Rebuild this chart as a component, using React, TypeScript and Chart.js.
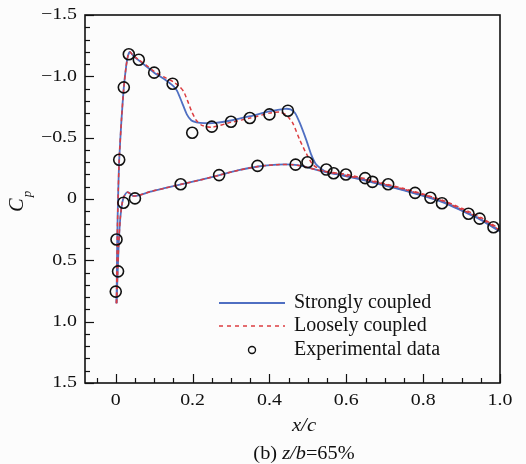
import React, { useEffect, useRef } from "react";
import { Chart, registerables } from "chart.js";

Chart.register(...registerables);

// ---- Data ----
const strongUpperX = [0.002, 0.004, 0.006, 0.009, 0.015, 0.021, 0.027, 0.032, 0.037, 0.045, 0.06, 0.08, 0.1, 0.125, 0.15, 0.16, 0.172, 0.185, 0.197, 0.21, 0.23, 0.26, 0.3, 0.35, 0.4, 0.44, 0.455, 0.467, 0.479, 0.496, 0.509, 0.522, 0.548, 0.6, 0.65, 0.7, 0.75, 0.8, 0.85, 0.9, 0.95, 1.0];
const strongUpperCp = [0.85, 0.3, 0.0, -0.32, -0.65, -0.91, -1.08, -1.17, -1.2, -1.17, -1.13, -1.08, -1.03, -0.98, -0.92, -0.88, -0.79, -0.69, -0.64, -0.625, -0.618, -0.62, -0.64, -0.675, -0.715, -0.735, -0.73, -0.7, -0.62, -0.48, -0.36, -0.28, -0.22, -0.19, -0.155, -0.115, -0.075, -0.03, 0.02, 0.09, 0.165, 0.26];

const strongLowerX = [0.002, 0.005, 0.008, 0.012, 0.017, 0.023, 0.03, 0.037, 0.045, 0.06, 0.09, 0.13, 0.17, 0.22, 0.27, 0.32, 0.37, 0.42, 0.46, 0.49, 0.52, 0.56, 0.6, 0.65, 0.7, 0.75, 0.8, 0.85, 0.9, 0.95, 1.0];
const strongLowerCp = [0.85, 0.6, 0.35, 0.15, 0.03, -0.03, -0.055, -0.045, -0.025, -0.03, -0.06, -0.09, -0.12, -0.155, -0.195, -0.235, -0.265, -0.28, -0.28, -0.265, -0.24, -0.21, -0.185, -0.15, -0.11, -0.07, -0.025, 0.025, 0.095, 0.17, 0.265];

const looseUpperX = [0.002, 0.004, 0.006, 0.009, 0.015, 0.021, 0.027, 0.032, 0.037, 0.045, 0.06, 0.08, 0.1, 0.125, 0.15, 0.165, 0.177, 0.187, 0.198, 0.21, 0.224, 0.25, 0.3, 0.35, 0.4, 0.427, 0.444, 0.461, 0.479, 0.496, 0.513, 0.539, 0.6, 0.65, 0.7, 0.75, 0.8, 0.85, 0.9, 0.95, 1.0];
const looseUpperCp = [0.85, 0.3, 0.0, -0.32, -0.65, -0.91, -1.08, -1.17, -1.2, -1.17, -1.135, -1.09, -1.04, -0.995, -0.955, -0.92, -0.875, -0.8, -0.71, -0.64, -0.6, -0.585, -0.625, -0.66, -0.7, -0.71, -0.685, -0.617, -0.48, -0.37, -0.28, -0.23, -0.2, -0.165, -0.125, -0.085, -0.04, 0.01, 0.075, 0.15, 0.245];

const looseLowerX = [0.002, 0.005, 0.008, 0.012, 0.017, 0.023, 0.03, 0.037, 0.045, 0.06, 0.09, 0.13, 0.17, 0.22, 0.27, 0.32, 0.37, 0.42, 0.46, 0.49, 0.52, 0.56, 0.6, 0.65, 0.7, 0.75, 0.8, 0.85, 0.9, 0.95, 1.0];
const looseLowerCp = [0.85, 0.6, 0.35, 0.15, 0.03, -0.03, -0.055, -0.045, -0.025, -0.03, -0.06, -0.09, -0.12, -0.155, -0.195, -0.235, -0.265, -0.28, -0.28, -0.265, -0.24, -0.215, -0.19, -0.158, -0.12, -0.08, -0.035, 0.015, 0.085, 0.16, 0.255];

const expX = [0.0, 0.006, 0.002, 0.009, 0.021, 0.034, 0.06, 0.1, 0.148, 0.199, 0.25, 0.3, 0.349, 0.4, 0.448, 0.499, 0.548, 0.567, 0.599, 0.649, 0.668, 0.709, 0.779, 0.819, 0.849, 0.918, 0.947, 0.983, 0.02, 0.05, 0.169, 0.269, 0.369, 0.468];
const expCp = [0.755, 0.59, 0.33, -0.32, -0.91, -1.18, -1.135, -1.03, -0.94, -0.54, -0.59, -0.63, -0.66, -0.69, -0.72, -0.3, -0.24, -0.21, -0.2, -0.17, -0.14, -0.12, -0.05, -0.01, 0.035, 0.12, 0.16, 0.23, 0.03, -0.005, -0.12, -0.195, -0.27, -0.28];

const xTickValues = [0, 0.2, 0.4, 0.6, 0.8, 1.0];
const xTickLabels = ["0", "0.2", "0.4", "0.6", "0.8", "1.0"];
const yTickValues = [-1.5, -1.0, -0.5, 0, 0.5, 1.0, 1.5];
const yTickLabels = ["\u22121.5", "\u22121.0", "\u22120.5", "0", "0.5", "1.0", "1.5"];

const legendLabels = ["Strongly coupled", "Loosely coupled", "Experimental data"];

const BLUE = "#4f6fc2";
const RED = "#dc3c40";
const SERIF = "'Liberation Serif', 'Times New Roman', serif";

const toPts = (xs: number[], ys: number[]) => xs.map((x, i) => ({ x, y: ys[i] }));

function sText(ctx: CanvasRenderingContext2D, text: string, x: number, y: number, align: CanvasTextAlign, font: string, sx = 1) {
  ctx.save();
  ctx.font = font;
  ctx.translate(x, y);
  ctx.scale(sx, 1);
  ctx.textAlign = align;
  ctx.textBaseline = "middle";
  ctx.fillText(text, 0, 0);
  ctx.restore();
}

const decorPlugin = {
  id: "decor",
  beforeDraw(chart: any) {
    const ctx = chart.ctx as CanvasRenderingContext2D;
    ctx.save();
    ctx.fillStyle = "#fcfcfc";
    ctx.fillRect(0, 0, chart.width, chart.height);
    ctx.restore();
  },
  afterDraw(chart: any) {
    const ctx = chart.ctx as CanvasRenderingContext2D;
    const { left, right, top, bottom } = chart.chartArea;
    const xs = chart.scales.x;
    const ys = chart.scales.y;
    ctx.save();
    ctx.strokeStyle = "#111";
    ctx.fillStyle = "#111";
    // frame
    ctx.lineWidth = 1.6;
    ctx.strokeRect(left, top, right - left, bottom - top);
    // y ticks (inward)
    ctx.lineWidth = 1.2;
    for (let i = -15; i <= 15; i++) {
      const py = Math.round(ys.getPixelForValue(i / 10)) + 0.5;
      const len = i % 5 === 0 ? 9 : 5;
      ctx.beginPath();
      ctx.moveTo(left, py);
      ctx.lineTo(left + len, py);
      ctx.stroke();
    }
    // x ticks (inward)
    for (let i = -1; i <= 20; i++) {
      const px = Math.round(xs.getPixelForValue(i * 0.05)) + 0.5;
      const len = i % 4 === 0 ? 9 : 5;
      ctx.beginPath();
      ctx.moveTo(px, bottom);
      ctx.lineTo(px, bottom - len);
      ctx.stroke();
    }
    // tick labels
    const tickFont = `17px ${SERIF}`;
    yTickValues.forEach((v, i) => {
      sText(ctx, yTickLabels[i], left - 8, ys.getPixelForValue(v), "right", tickFont, 1.17);
    });
    xTickValues.forEach((v, i) => {
      sText(ctx, xTickLabels[i], xs.getPixelForValue(v), bottom + 18, "center", tickFont, 1.17);
    });
    // x title
    sText(ctx, "x/c", 304, bottom + 43, "center", `italic 18px ${SERIF}`, 1.15);
    // caption: (b) z/b=65%
    {
      const parts = [
        { t: "(b) ", f: `18px ${SERIF}` },
        { t: "z/b", f: `italic 18px ${SERIF}` },
        { t: "=65%", f: `18px ${SERIF}` },
      ];
      const sx = 1.13;
      let total = 0;
      parts.forEach((p) => {
        ctx.font = p.f;
        total += ctx.measureText(p.t).width * sx;
      });
      let x = 304 - total / 2;
      parts.forEach((p) => {
        sText(ctx, p.t, x, bottom + 71, "left", p.f, sx);
        ctx.font = p.f;
        x += ctx.measureText(p.t).width * sx;
      });
    }
    // y title C_p
    ctx.save();
    ctx.translate(18, 205);
    ctx.rotate(-Math.PI / 2);
    ctx.textAlign = "center";
    ctx.textBaseline = "middle";
    ctx.font = `italic 20px ${SERIF}`;
    ctx.fillText("C", 0, 0);
    ctx.font = `italic 13px ${SERIF}`;
    ctx.fillText("p", 11, 10);
    ctx.restore();
    // legend
    const lx0 = 219, lx1 = 285, tx = 294;
    const ly = [303, 326, 350];
    ctx.lineWidth = 1.8;
    ctx.strokeStyle = BLUE;
    ctx.beginPath();
    ctx.moveTo(lx0, ly[0]);
    ctx.lineTo(lx1, ly[0]);
    ctx.stroke();
    ctx.lineWidth = 1.5;
    ctx.strokeStyle = RED;
    ctx.setLineDash([4, 4]);
    ctx.beginPath();
    ctx.moveTo(lx0, ly[1]);
    ctx.lineTo(lx1, ly[1]);
    ctx.stroke();
    ctx.setLineDash([]);
    ctx.strokeStyle = "#111";
    ctx.lineWidth = 1.4;
    ctx.beginPath();
    ctx.arc(252, ly[2], 3.5, 0, Math.PI * 2);
    ctx.stroke();
    legendLabels.forEach((t, i) => sText(ctx, t, tx, ly[i], "left", `20px ${SERIF}`, 1));
    ctx.restore();
  },
};

export default function App() {
  const ref = useRef<HTMLCanvasElement | null>(null);
  useEffect(() => {
    if (!ref.current) return;
    const lineDs = (label: string, pts: any[], color: string, dash: number[], width: number, order: number) => ({
      label,
      data: pts,
      showLine: true,
      borderColor: color,
      borderWidth: width,
      borderDash: dash,
      pointRadius: 0,
      tension: 0.2,
      fill: false,
      order,
    });
    const chart = new Chart(ref.current, {
      type: "scatter",
      data: {
        datasets: [
          {
            label: "Experimental data",
            data: toPts(expX, expCp),
            pointRadius: 5.5,
            pointBorderWidth: 1.6,
            pointBorderColor: "#111",
            pointBackgroundColor: "rgba(0,0,0,0)",
            showLine: false,
            order: 0,
          } as any,
          lineDs("Loosely coupled", toPts(looseUpperX, looseUpperCp), RED, [4, 3], 1.5, 1),
          lineDs("Loosely coupled lower", toPts(looseLowerX, looseLowerCp), RED, [4, 3], 1.5, 1),
          lineDs("Strongly coupled", toPts(strongUpperX, strongUpperCp), BLUE, [], 1.8, 2),
          lineDs("Strongly coupled lower", toPts(strongLowerX, strongLowerCp), BLUE, [], 1.8, 2),
        ],
      },
      options: {
        responsive: false,
        animation: false,
        devicePixelRatio: 1,
        layout: { padding: { left: 85, right: 26, top: 15, bottom: 81 } },
        plugins: { legend: { display: false }, tooltip: { enabled: false } },
        scales: {
          x: { type: "linear", min: -0.08, max: 1.0, display: false },
          y: { type: "linear", min: -1.5, max: 1.5, reverse: true, display: false },
        },
      },
      plugins: [decorPlugin],
    });
    return () => chart.destroy();
  }, []);
  return (
    <div style={{ position: "fixed", left: 0, top: 0, width: 526, height: 464, background: "#fcfcfc" }}>
      <canvas ref={ref} width={526} height={464} style={{ display: "block", width: 526, height: 464 }} />
    </div>
  );
}
